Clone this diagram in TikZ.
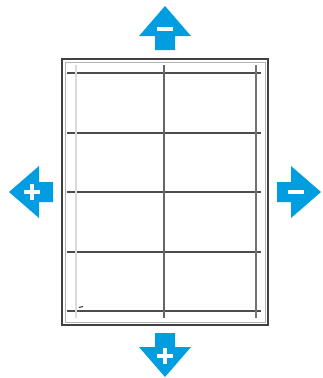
\documentclass[tikz,border=0pt]{standalone}
\usepackage{xcolor}
\usepackage{tikz}
\usetikzlibrary{calc}

\definecolor{arrowblue}{RGB}{0,157,224}

\tikzset{
    pics/blockarrow/.style={code={
        \fill[arrowblue] (0,-30) -- (26,0) -- (10,0) -- (10,14) -- (-10,14) -- (-10,0) -- (-26,0) -- cycle;
    }},
    signbar/.style={white, line width=4pt}
}

\begin{document}
\begin{tikzpicture}[x=1pt, y=-1pt]
\useasboundingbox (0,0) rectangle (322,378);

% Page outline (double edge)
\draw[black!75, line width=1.8pt] (62,59) rectangle (268,325);
\draw[gray!60, line width=1pt] (65,62) rectangle (265,322);

% Grid lines
\foreach \y in {73, 133, 192, 252, 311} {
    \draw[black!70, line width=1.1pt] (67,\y) -- (261,\y);
}
\draw[gray!28, line width=2.8pt] (76,65) -- (76,318);
\draw[black!60, line width=1.2pt] (164,65) -- (164,318);
\draw[black!55, line width=1.8pt] (256,65) -- (256,318);

% Small mark
\draw[black!80, line width=1pt] (79,307.5) -- (83,306.5);

% Arrows
\pic at (165,36) {blockarrow};
\pic[rotate=90] at (39,192) {blockarrow};
\pic[rotate=-90] at (291,192) {blockarrow};
\pic[rotate=180] at (165,347) {blockarrow};

% Minus and plus signs
\draw[signbar] (157,29) -- (173,29);
\draw[signbar] (288,192) -- (304,192);
\draw[signbar] (24,192) -- (40,192);
\draw[signbar] (32,184) -- (32,200);
\draw[signbar] (157,356) -- (173,356);
\draw[signbar] (165,348) -- (165,364);
\end{tikzpicture}
\end{document}
